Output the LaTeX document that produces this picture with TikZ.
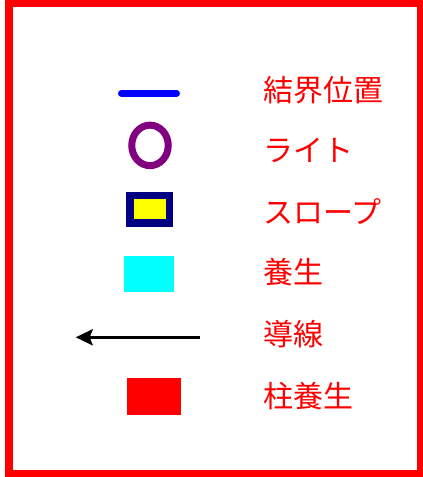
\documentclass[tikz,border=0pt]{standalone}
\usepackage{fontspec}
\newfontfamily\cjk{Noto Sans CJK JP}
\usetikzlibrary{arrows.meta,shapes.geometric}
\definecolor{navyc}{RGB}{0,0,128}
\definecolor{purplec}{RGB}{128,0,128}
\definecolor{cyanc}{RGB}{0,255,255}
\definecolor{yellowc}{RGB}{255,255,0}
\definecolor{redc}{RGB}{255,0,0}
\definecolor{bluec}{RGB}{0,0,255}
\tikzset{
  lbl/.style={anchor=west, inner sep=0pt, text=redc, font=\cjk\fontsize{30}{30}\selectfont},
}
\begin{document}
\begin{tikzpicture}[x=1pt,y=-1pt]
\useasboundingbox (0,0) rectangle (423,477);
\begin{scope}
\clip (0,0) rectangle (423,477);
\draw[redc, line width=7.5] (8.75,3.25) rectangle (421,473.75);
\end{scope}
% symbols
\coordinate (b1) at (121.5,93.3);
\coordinate (b2) at (176.5,93.3);
\draw[bluec, line width=7, line cap=round] (b1) -- (b2);
\node[draw=purplec, line width=7, ellipse, minimum width=36.5, minimum height=40.5, inner sep=0pt] (light) at (150,145.4) {};
\path[draw=navyc, fill=yellowc, line width=7.5] (130,195.5) rectangle (169.7,223);
\node[fill=cyanc, minimum width=50, minimum height=36.3, inner sep=0pt] (yojo) at (149,274.2) {};
\coordinate (a1) at (200,337.3);
\coordinate (a2) at (75.7,337.3);
\draw[line width=3, -{Stealth[length=17, width=16, inset=3]}] (a1) -- (a2);
\node[fill=redc, minimum width=53.4, minimum height=36.7, inner sep=0pt] (hashira) at (154,396.7) {};
% labels
\node[lbl] (t1) at (263,90) {結界位置};
\node[lbl] (t2) at (263,150) {ライト};
\node[lbl] (t3) at (263,211.5) {スロープ};
\node[lbl] (t4) at (263,272.5) {養生};
\node[lbl] (t5) at (263,334) {導線};
\node[lbl] (t6) at (263,396) {柱養生};
\end{tikzpicture}
\end{document}
